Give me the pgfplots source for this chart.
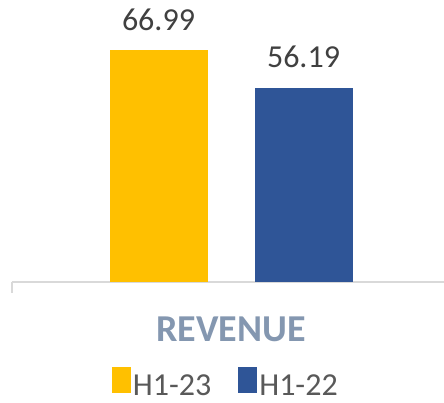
\documentclass[border=0pt]{standalone}
\usepackage{pgfplots}
\pgfplotsset{compat=1.18}
\usepackage{fontspec}
\setmainfont{Carlito}

\definecolor{barYellow}{HTML}{FFC000}
\definecolor{barBlue}{HTML}{2F5597}
\definecolor{catGray}{HTML}{8497B0}
\definecolor{valText}{HTML}{404040}
\definecolor{legText}{HTML}{595959}
\definecolor{axGray}{HTML}{D9D9D9}

\begin{document}
\begin{tikzpicture}
\begin{axis}[
    name=ax,
    scale only axis,
    width=432pt, height=282pt,
    ybar=47pt, bar width=98pt,
    xmin=-219, xmax=213,
    ymin=0, ymax=81.6,
    axis x line*=bottom,
    axis y line=none,
    x axis line style={draw=axGray, line width=1.3pt, -},
    major tick length=0pt,
    xtick={0}, xticklabels={REVENUE},
    xticklabel style={font=\fontsize{38}{42}\selectfont\bfseries, text=catGray, anchor=center, yshift=-47pt},
    ytick=\empty,
    nodes near coords,
    /pgf/number format/.cd, fixed, fixed zerofill, precision=2, assume math mode=true,
    /pgfplots/.cd,
    every node near coord/.append style={font=\fontsize{32}{36}\selectfont, text=valText, inner sep=0pt, yshift=20pt},
    legend columns=2,
    legend style={at={(0.495,-0.358)}, anchor=center, draw=none, inner sep=1pt, font=\fontsize{32}{36}\selectfont, text=legText,
        /tikz/every even column/.append style={column sep=25pt}},
    legend image code/.code={%
        \path (0pt,0pt) rectangle (19pt,19pt);
        \begin{pgfinterruptboundingbox}
        \fill[#1] (0pt,-7pt) rectangle (19pt,12pt);
        \end{pgfinterruptboundingbox}},
    clip=false,
]
\addplot[draw=none, fill=barYellow] coordinates {(0,66.99)};
\addplot[draw=none, fill=barBlue] coordinates {(0,56.19)};
\legend{H1-23, H1-22}
\draw[axGray, line width=1.3pt] (rel axis cs:0,0) -- ++(0pt,-11pt);
\end{axis}
\pgfresetboundingbox
\path[use as bounding box] ([xshift=-12pt, yshift=-120pt]ax.south west) rectangle (ax.north east);
\end{tikzpicture}
\end{document}
